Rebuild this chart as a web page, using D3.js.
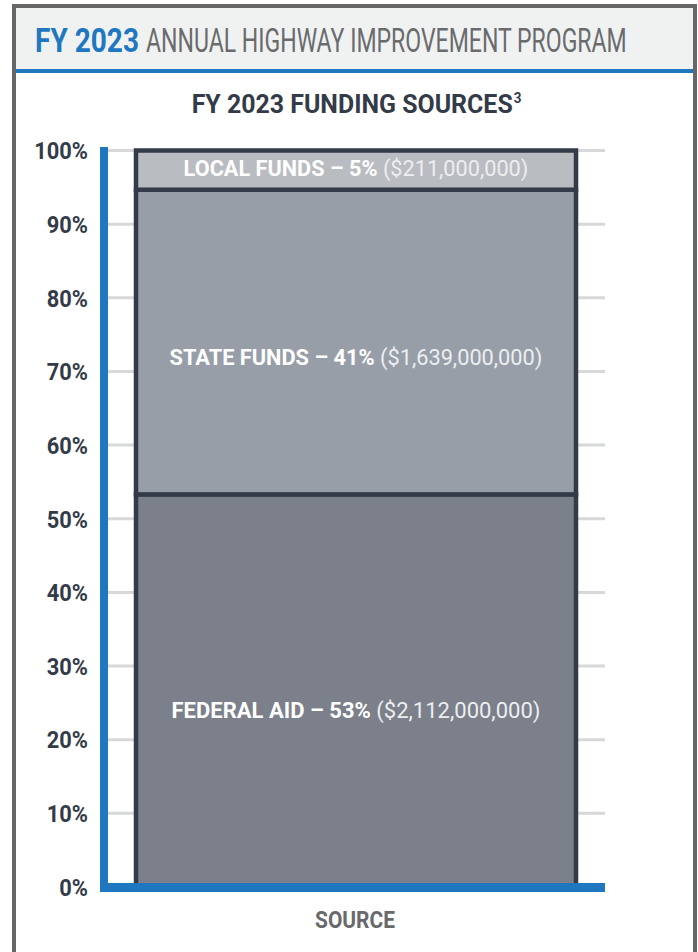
<!DOCTYPE html>
<html>
<head>
<meta charset="utf-8">
<script src="https://cdn.jsdelivr.net/npm/d3@7"></script>
<style>
  html, body { margin: 0; padding: 0; background: #ffffff; }
  svg { display: block; }
  text { font-family: Roboto, "Liberation Sans", sans-serif; }
</style>
</head>
<body>
<svg id="chart" width="698" height="952"></svg>
<script>
// FY 2023 funding sources - single stacked bar

const sourceKeys = ["federal", "state", "local"]
const sourceNames = ["FEDERAL AID", "STATE FUNDS", "LOCAL FUNDS"]
const sourceAmounts = [2112000000, 1639000000, 211000000]
const sourcePercents = [53, 41, 5]
const sourceColors = ["#7b808a", "#979ea8", "#b9bcc0"]
const yTickValues = [0, 10, 20, 30, 40, 50, 60, 70, 80, 90, 100]
const xCategory = ["SOURCE"]

const blue = "#1f77c0"
const dark = "#343b48"
// no condensed face installed: texts are squeezed to the widths they take in the print
const labelWidths = [369, 373, 345]

const svg = d3.select("#chart")

// draw text at (0,0) then scale it horizontally around its anchor
function fitWidth(sel, x, y, w) {
    sel.each(function() {
        const len = this.getComputedTextLength()
        d3.select(this).attr("transform", `translate(${x},${y}) scale(${w / len},1)`)
    })
}

// frame + header band
svg.append("rect")
    .attr("x", 0).attr("y", 0).attr("width", 698).attr("height", 952)
    .attr("fill", "#ffffff")
svg.append("rect")
    .attr("x", 16).attr("y", 8).attr("width", 677).attr("height", 62)
    .attr("fill", "#f0f2f2")
svg.append("rect")
    .attr("x", 16).attr("y", 69).attr("width", 677).attr("height", 4)
    .attr("fill", blue)
svg.append("rect")
    .attr("x", 14).attr("y", 6).attr("width", 681).attr("height", 960)
    .attr("fill", "none")
    .attr("stroke", "#666769")
    .attr("stroke-width", 4)

svg.append("text")
    .attr("font-size", "33px")
    .attr("font-weight", "bold")
    .attr("fill", blue)
    .text("FY 2023")
    .call(fitWidth, 35, 52, 104)
svg.append("text")
    .attr("font-size", "33px")
    .attr("fill", "#6a6b6d")
    .text("ANNUAL HIGHWAY IMPROVEMENT PROGRAM")
    .call(fitWidth, 146, 52, 481)

// chart title
const title = svg.append("text")
    .attr("text-anchor", "middle")
    .attr("font-size", "26px")
    .attr("font-weight", "bold")
    .attr("fill", dark)
title.append("tspan").text("FY 2023 FUNDING SOURCES")
title.append("tspan").attr("font-size", "14px").attr("dx", "1").attr("dy", "-10").text("3")
fitWidth(title, 356.5, 113, 329)

// scales
const plot = {left: 104, right: 605, top: 150.5, bottom: 887}
const y = d3.scaleLinear().domain([0, 100]).range([plot.bottom, plot.top])
const x = d3.scaleBand().domain(xCategory).range([136, 576]).padding(0)

// gridlines
svg.append("g")
    .selectAll("line")
    .data(yTickValues.filter(d => d > 0))
    .enter()
    .append("line")
    .attr("x1", plot.left).attr("x2", plot.right)
    .attr("y1", d => y(d)).attr("y2", d => y(d))
    .attr("stroke", "#d6d8d9")
    .attr("stroke-width", 3)

// stacked data as percent of total
const total = d3.sum(sourceAmounts)
const row = {}
sourceKeys.forEach((k, i) => row[k] = sourceAmounts[i] / total * 100)
const stacked = d3.stack().keys(sourceKeys)([row])

svg.append("g")
    .selectAll("rect")
    .data(stacked)
    .enter()
    .append("rect")
    .attr("x", x("SOURCE"))
    .attr("width", x.bandwidth())
    .attr("y", d => y(d[0][1]))
    .attr("height", d => y(d[0][0]) - y(d[0][1]))
    .attr("fill", (d, i) => sourceColors[i])
    .attr("stroke", dark)
    .attr("stroke-width", 4.5)

// segment labels
const fmt = d3.format("$,")
const labels = svg.append("g")
    .selectAll("text")
    .data(stacked)
    .enter()
    .append("text")
    .attr("text-anchor", "middle")
    .attr("font-size", "22px")
labels.append("tspan")
    .attr("font-weight", "bold")
    .attr("fill", "#ffffff")
    .text((d, i) => `${sourceNames[i]} – ${sourcePercents[i]}% `)
labels.append("tspan")
    .attr("fill", "#eceef0")
    .text((d, i) => `(${fmt(sourceAmounts[i])})`)
labels.each(function(d, i) {
    const lo = d[0][0], hi = d[0][1]
    const f = (hi - lo) > 10 ? 0.45 : 0.55
    fitWidth(d3.select(this), x("SOURCE") + x.bandwidth() / 2, y(lo + (hi - lo) * f) + 8, labelWidths[i])
})

// axes: blue L
svg.append("line")
    .attr("x1", 104).attr("x2", 104)
    .attr("y1", 147).attr("y2", 892)
    .attr("stroke", blue).attr("stroke-width", 8)
svg.append("line")
    .attr("x1", 100).attr("x2", 605)
    .attr("y1", 887.5).attr("y2", 887.5)
    .attr("stroke", blue).attr("stroke-width", 9)

const yAxis = svg.append("g")
    .attr("transform", "translate(88,0)")
    .call(d3.axisLeft(y).tickValues(yTickValues).tickFormat(d => d + "%").tickSize(0).tickPadding(0))
yAxis.select(".domain").remove()
yAxis.selectAll("text")
    .attr("font-size", "23px")
    .attr("font-weight", "bold")
    .attr("fill", dark)
    .attr("font-family", "Roboto, sans-serif")
    .attr("dy", "0.36em")
    .attr("text-anchor", "end")
    .each(function() {
        const len = this.getComputedTextLength()
        d3.select(this).attr("textLength", len * 0.95).attr("lengthAdjust", "spacingAndGlyphs")
    })

// x category label
svg.append("text")
    .attr("text-anchor", "middle")
    .attr("font-size", "23px")
    .attr("font-weight", "bold")
    .attr("fill", "#68696b")
    .text(xCategory[0])
    .call(fitWidth, 355, 928, 80)
</script>
</body>
</html>
